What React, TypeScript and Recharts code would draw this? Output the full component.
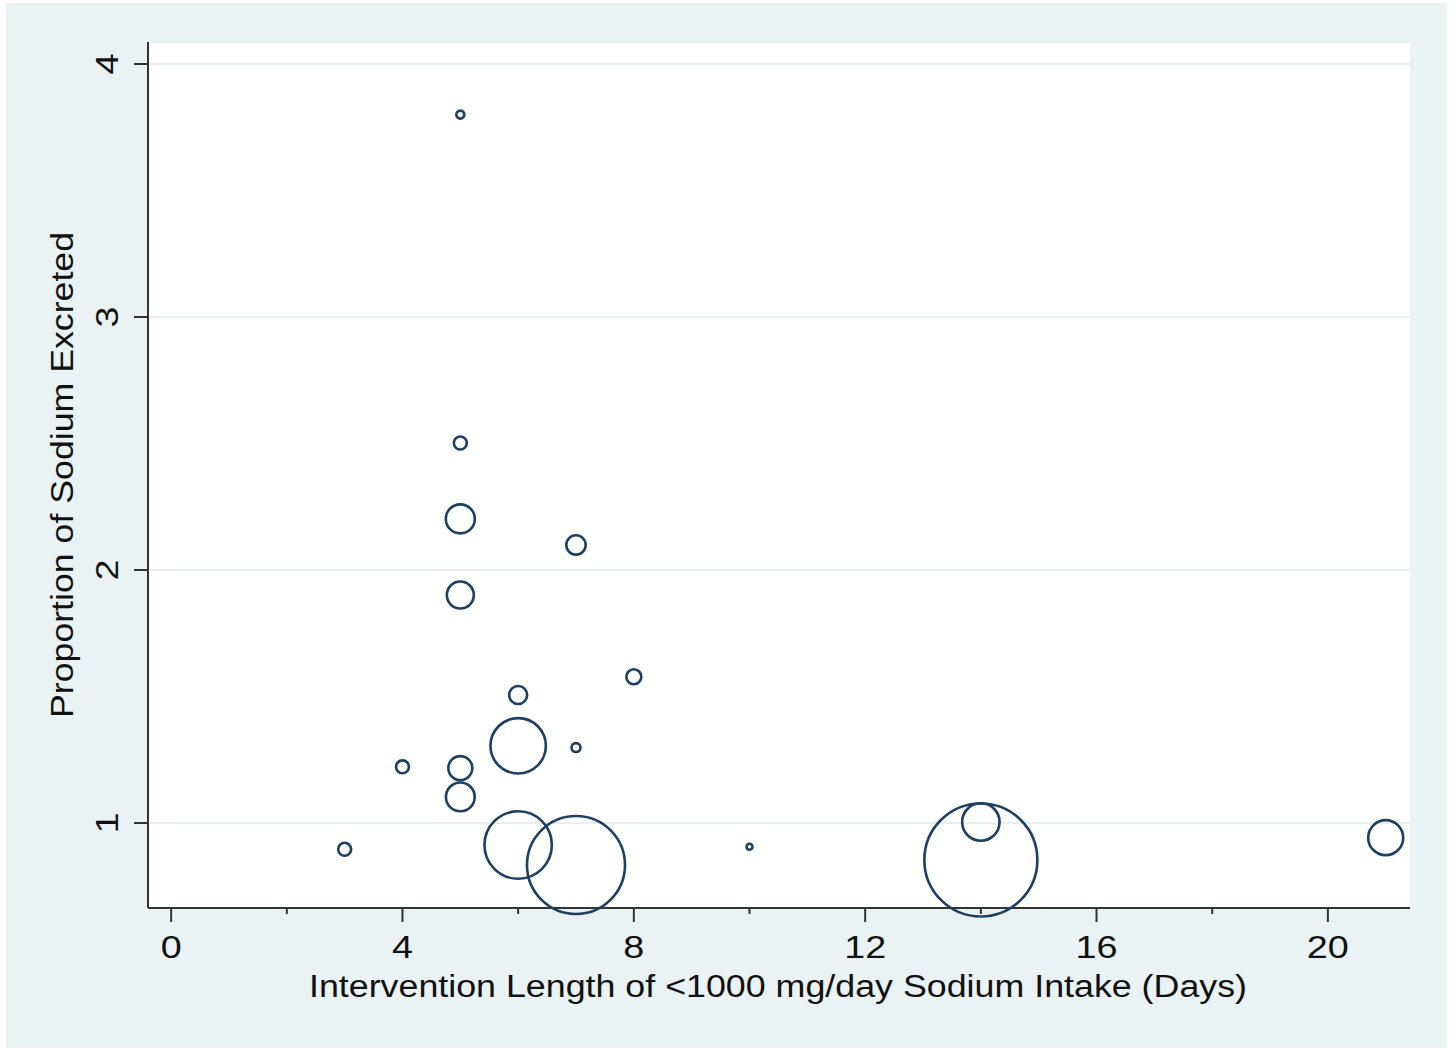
import React from "react";
import {
  ScatterChart,
  Scatter,
  XAxis,
  YAxis,
  ZAxis,
  CartesianGrid,
  Label,
} from "recharts";

// intervention length (days), proportion of sodium excreted, bubble weight
const days = [3, 4, 5, 5, 5, 5, 5, 5, 6, 6, 6, 7, 7, 7, 8, 10, 14, 14, 21];
const proportion = [
  0.896, 1.222, 3.8, 2.502, 2.202, 1.901, 1.217, 1.103, 1.506, 1.305, 0.913,
  2.099, 1.298, 0.834, 1.578, 0.906, 1.004, 0.854, 0.942,
];
const weight = [
  42, 42, 16, 42, 210, 182, 144, 207, 81, 767, 1136, 94, 20, 2401, 56, 9,
  350, 3192, 306,
];

const xTicks = [0, 2, 4, 6, 8, 10, 12, 14, 16, 18, 20];
const yTicks = [1, 2, 3, 4];

const data = days.map((d, i) => ({ x: d, y: proportion[i], w: weight[i] }));

const FONT = "'Liberation Sans', Arial, Helvetica, sans-serif";
const AXIS = "#333";
const NAVY = "#1C3F63";

const XTick = ({ x, y, payload }: any) => {
  const major = payload.value % 4 === 0;
  const ty = y + 50;
  return (
    <g>
      <line x1={x} y1={y} x2={x} y2={y + (major ? 14 : 6)} stroke={AXIS} strokeWidth={2} />
      {major && (
        <text
          x={x}
          y={ty}
          textAnchor="middle"
          fontSize={32}
          fontFamily={FONT}
          fill="#111"
          transform={`translate(${x}, ${ty}) scale(1.18, 1) translate(${-x}, ${-ty})`}
        >
          {payload.value}
        </text>
      )}
    </g>
  );
};

const YTick = ({ x, y, payload }: any) => {
  const tx = x - 30;
  return (
    <g>
      <line x1={x - 14} y1={y} x2={x} y2={y} stroke={AXIS} strokeWidth={2} />
      <text
        x={tx}
        y={y}
        textAnchor="middle"
        fontSize={32}
        fontFamily={FONT}
        fill="#111"
        transform={`rotate(-90, ${tx}, ${y}) translate(${tx}, ${y}) scale(1.18, 1) translate(${-tx}, ${-y})`}
      >
        {payload.value}
      </text>
    </g>
  );
};

const XTitle = ({ viewBox }: any) => (
  <text
    x={viewBox.x + viewBox.width / 2 - 1}
    y={viewBox.y + 89}
    textAnchor="middle"
    fontSize={31}
    fontFamily={FONT}
    fill="#111"
    textLength={938}
    lengthAdjust="spacingAndGlyphs"
  >
    Intervention Length of &lt;1000 mg/day Sodium Intake (Days)
  </text>
);

const YTitle = ({ viewBox }: any) => {
  const bx = viewBox.x + viewBox.width - 75;
  const cy = viewBox.y + viewBox.height / 2;
  return (
    <text
      x={bx}
      y={cy}
      textAnchor="middle"
      fontSize={31}
      fontFamily={FONT}
      fill="#111"
      textLength={486}
      lengthAdjust="spacingAndGlyphs"
      transform={`rotate(-90, ${bx}, ${cy})`}
    >
      Proportion of Sodium Excreted
    </text>
  );
};

export default function App() {
  return (
    <div style={{ position: "absolute", left: 0, top: 0, width: 1453, height: 1051, background: "#fff" }}>
      <div style={{ position: "absolute", left: 6, top: 3, width: 1441, height: 1045, background: "#EAF2F3" }}>
        <ScatterChart width={1441} height={1045} margin={{ top: 39, right: 37, left: 62, bottom: 80 }}>
          <CartesianGrid vertical={false} fill="#fff" stroke="#E8EFF1" strokeWidth={2} />
          <XAxis
            type="number"
            dataKey="x"
            domain={[-0.4, 21.42]}
            ticks={xTicks}
            interval={0}
            height={60}
            tickSize={0}
            tickMargin={0}
            tick={<XTick />}
            axisLine={{ stroke: AXIS, strokeWidth: 2 }}
          >
            <Label content={<XTitle />} />
          </XAxis>
          <YAxis
            type="number"
            dataKey="y"
            domain={[0.664, 4.087]}
            ticks={yTicks}
            interval={0}
            width={80}
            tickSize={0}
            tickMargin={0}
            tick={<YTick />}
            axisLine={{ stroke: AXIS, strokeWidth: 2 }}
          >
            <Label content={<YTitle />} />
          </YAxis>
          <ZAxis type="number" dataKey="w" domain={[0, 3200]} range={[0, 3200 * Math.PI]} />
          <Scatter
            data={data}
            shape="circle"
            fill="none"
            stroke={NAVY}
            strokeWidth={2.6}
            isAnimationActive={false}
          />
        </ScatterChart>
      </div>
    </div>
  );
}
